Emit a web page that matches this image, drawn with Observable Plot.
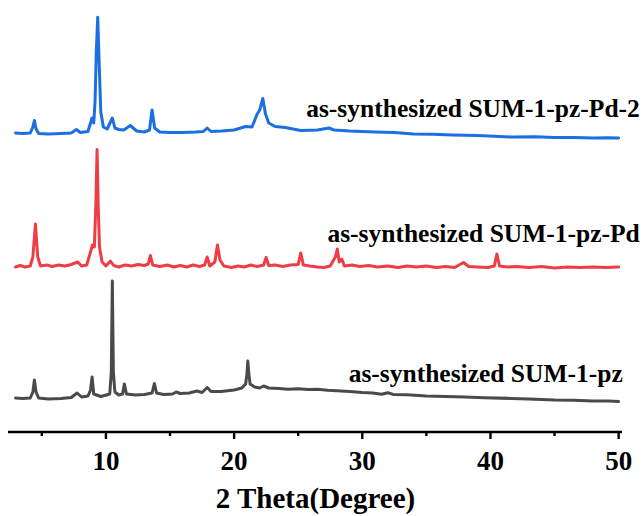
<!DOCTYPE html>
<html>
<head>
<meta charset="utf-8">
<script src="https://cdn.jsdelivr.net/npm/d3@7"></script>
<script src="https://cdn.jsdelivr.net/npm/@observablehq/plot@0.6"></script>
<style>
  html, body { margin: 0; padding: 0; background: #fff; }
  #chart svg { display: block; }
</style>
</head>
<body>
<div id="chart"></div>
<script>
// ---- data (2θ in degrees, intensity in offset arbitrary units) ----
const seriesNames = ["as-synthesized SUM-1-pz", "as-synthesized SUM-1-pz-Pd", "as-synthesized SUM-1-pz-Pd-2"];

const thetaPz = [2.95,3.5,4.1,4.3,4.42,4.55,4.75,5.5,6.5,7.3,7.75,8.1,8.6,8.8,8.92,9.05,9.6,10.3,10.42,10.5,10.58,10.7,11.0,11.3,11.44,11.6,12.3,13.0,13.6,13.78,13.95,14.5,15.2,15.48,15.8,16.5,17.1,17.5,17.9,18.2,19.0,20.0,20.6,20.9,21.0,21.07,21.15,21.25,21.6,22.0,22.3,22.7,23.5,24.2,25.0,25.8,26.5,27.3,28.0,29.0,30.0,30.8,31.5,32.0,32.4,33.5,35.0,36.5,38.0,39.5,41.6,43.0,45.0,46.5,48.0,49.2,50.0];
const intPz   = [34,33.5,34,40,52,40,34,33,33.5,34.5,39,35,36,42,55,38,35.5,38,60,151,60,40,37,38,48,38,37,37.5,39,48.5,39,37.5,38,40,38.5,39,41,39.5,44.5,40.5,40.5,42,44,48,58,71,58,48,45,44,46,44,43.5,42.8,43.3,42.4,42.8,41.7,41.3,40.6,39.6,39.1,37.8,39.2,37.6,37.3,36.1,35.6,35.1,34.3,33.6,33.1,32.1,31.8,31.1,30.9,30.5];

const thetaPd = [2.95,3.3,3.7,4.1,4.3,4.5,4.68,4.9,5.4,5.8,6.3,6.8,7.3,7.8,8.1,8.5,8.8,8.95,9.1,9.22,9.31,9.4,9.5,9.7,10.0,10.35,10.6,11.0,11.5,12.0,12.5,13.0,13.3,13.47,13.65,14.2,14.8,15.3,15.8,16.3,16.8,17.3,17.7,17.9,18.1,18.5,18.7,18.9,19.2,19.8,20.3,20.8,21.3,21.8,22.3,22.5,22.7,23.2,23.8,24.4,25.0,25.2,25.4,25.9,26.5,27.0,27.5,27.9,28.05,28.2,28.4,28.6,29.2,29.8,30.5,31.2,32.0,32.8,33.5,34.2,35.0,35.8,36.5,37.2,37.9,38.3,39.0,39.8,40.3,40.5,40.7,41.3,42.0,43.0,44.0,45.0,46.0,47.0,48.0,49.0,50.0];
const intPd   = [165,166.5,165,166,175,208,175,166,167,165.5,167,166,167.5,170,166,167,180,187,185,230,282.5,225,185,170,166,171,166.5,165,167,166,167.5,166.5,168,176.5,167,165.5,167,165,166.5,165,167,165.5,167,175,166,170,187,172,166,164.5,166,165,167,165.5,167,174.5,166.5,167,165.5,167,167.5,179,167,166,165,164.5,166,175,183,170,173,166,167,165.5,166.5,165,166,164.5,166,165,166,164.5,165.5,164.5,169.5,165.5,165,164.5,166,178,166,165,165.5,164.5,165.5,164,165,164.5,165,164.5,165];

const thetaPd2 = [2.95,3.5,4.1,4.3,4.42,4.55,4.75,5.5,6.5,7.3,7.7,8.0,8.6,8.8,8.92,9.05,9.15,9.25,9.36,9.47,9.6,9.8,10.1,10.5,10.7,11.0,11.4,11.9,12.4,13.0,13.4,13.6,13.8,14.2,15.0,16.0,17.0,17.6,17.9,18.2,19.0,20.0,20.9,21.4,21.8,22.0,22.24,22.45,22.7,23.2,24.0,25.2,26.5,27.4,27.8,29.0,30.0,31.0,32.5,34.0,35.5,37.0,39.0,41.6,43.5,45.0,46.5,48.0,49.2,50.0];
const intPd2   = [299,298.5,299,305,311.5,303,298.5,298,298.5,299,302.5,299.5,300.5,309,314,309,330,380,414.8,370,320,305,303,314,304,302.5,302,306.5,301,300,302,322,304,300,299.5,299.5,300,300.5,304,300.5,301,302,305.5,305,318,322,333.5,318,309,305.5,304.5,301.5,302,304,302,301,300.6,300,299.4,298,297.8,297,296.4,295,295.3,294.5,294.6,294,294.2,294];

const majorTicks = [10, 20, 30, 40, 50];
const minorTicks = [5, 15, 25, 35, 45];
const axisTitle = "2 Theta(Degree)";

// ---- build tables ----
const toRows = (xs, ys, name) => xs.map((x, i) => ({theta: x, intensity: ys[i], series: name}));
const rows = [
  ...toRows(thetaPz, intPz, seriesNames[0]),
  ...toRows(thetaPd, intPd, seriesNames[1]),
  ...toRows(thetaPd2, intPd2, seriesNames[2])
];
const colors = ["#4a4a4a", "#ee3d44", "#1c6fe0"];
const labelRows = [
  {text: seriesNames[0], theta: 50.32, intensity: 49.8},
  {text: seriesNames[1], theta: 51.65, intensity: 189.8},
  {text: seriesNames[2], theta: 51.65, intensity: 315.5}
];

const font = "'Liberation Serif', 'Times New Roman', serif";

const chart = Plot.plot({
  width: 644,
  height: 516,
  marginLeft: 8,
  marginRight: 22,
  marginTop: 0,
  marginBottom: 84.5,
  style: {fontFamily: font, background: "#fff", overflow: "visible"},
  x: {domain: [2.4, 50.3]},
  y: {domain: [0, 431.5], axis: null},
  color: {domain: seriesNames, range: colors},
  marks: [
    Plot.line(rows, {x: "theta", y: "intensity", z: "series", stroke: "series", strokeWidth: 3, strokeLinejoin: "round", strokeLinecap: "round"}),
    Plot.text(labelRows, {x: "theta", y: "intensity", text: "text", textAnchor: "end", lineAnchor: "bottom", fontSize: 25.5, fontWeight: "bold", fill: "#000", clip: false}),
    Plot.ruleY([0], {stroke: "#000", strokeWidth: 2.6}),
    Plot.axisX({ticks: minorTicks, tickSize: 4.5, strokeWidth: 2.4, text: null, label: null}),
    Plot.axisX({ticks: majorTicks, tickSize: 7.5, tickPadding: 11, strokeWidth: 2.4, fontSize: 27, fontWeight: "bold", fill: "#000", label: null}),
    Plot.text([axisTitle], {text: d => d, frameAnchor: "bottom", dy: 76, lineAnchor: "bottom", fontSize: 29, fontWeight: "bold", fill: "#000"})
  ]
});
document.getElementById("chart").appendChild(chart);
</script>
</body>
</html>
